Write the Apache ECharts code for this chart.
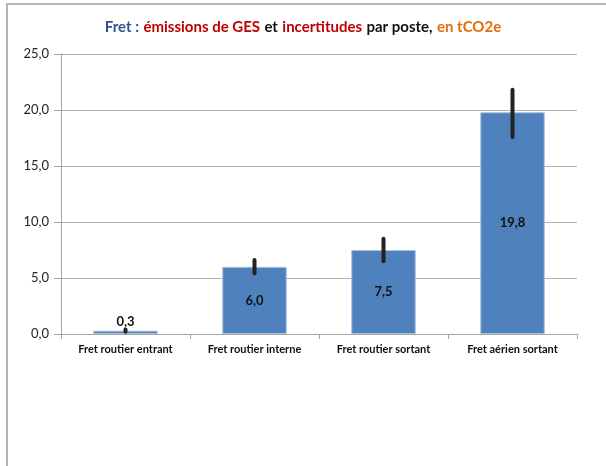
<!DOCTYPE html>
<html>
<head>
<meta charset="utf-8">
<script src="https://cdn.jsdelivr.net/npm/echarts@6/dist/echarts.min.js"></script>
<style>
  html, body { margin: 0; padding: 0; background: #fff; }
  #chart { width: 606px; height: 466px; }
</style>
</head>
<body>
<div id="chart"></div>
<script>
// postes de fret
var categories = ['Fret routier entrant', 'Fret routier interne', 'Fret routier sortant', 'Fret aérien sortant'];
// émissions en tCO2e
var emissions = [0.3, 6.0, 7.5, 19.8];
// bornes des incertitudes (bas / haut)
var errLow = [0.2, 5.4, 6.5, 17.6];
var errHigh = [0.4, 6.6, 8.5, 21.8];
// axe Y
var yTicks = [0, 5, 10, 15, 20, 25];

var fr = function (v) { return v.toFixed(1).replace('.', ','); };

var myChart = echarts.init(document.getElementById('chart'));

var option = {
  animation: false,
  textStyle: { fontFamily: 'Lato' },
  title: {
    left: 'center',
    top: 13,
    text: '{b|Fret :} {r|émissions de GES} {k|et} {r|incertitudes} {k|par poste,} {o|en tCO2e}',
    textStyle: {
      rich: {
        b: { color: '#2c5590', fontWeight: 'bold', fontSize: 15, fontFamily: 'Lato' },
        r: { color: '#c00000', fontWeight: 'bold', fontSize: 15, fontFamily: 'Lato' },
        k: { color: '#111', fontWeight: 'bold', fontSize: 15, fontFamily: 'Lato' },
        o: { color: '#e46c0a', fontWeight: 'bold', fontSize: 15, fontFamily: 'Lato' }
      }
    }
  },
  graphic: [{
    type: 'rect',
    shape: { x: 7, y: 4, width: 700, height: 600 },
    style: { fill: 'none', stroke: '#b4b4b4', lineWidth: 2 },
    silent: true
  }],
  grid: { left: 61, right: 29, top: 54, bottom: 132 },
  xAxis: {
    type: 'category',
    data: categories,
    axisLine: { lineStyle: { color: '#a6a6a6' } },
    axisTick: { show: true, length: 5, lineStyle: { color: '#a6a6a6' } },
    axisLabel: { color: '#111', fontWeight: 'bold', fontSize: 11, margin: 10, interval: 0 }
  },
  yAxis: {
    type: 'value',
    min: yTicks[0],
    max: yTicks[yTicks.length - 1],
    interval: 5,
    axisLine: { show: true, lineStyle: { color: '#a6a6a6' } },
    axisTick: { show: true, length: 7, lineStyle: { color: '#a6a6a6' } },
    splitLine: { lineStyle: { color: '#b4b4b4' } },
    axisLabel: { color: '#222', fontSize: 13, margin: 12, formatter: function (v) { return fr(v); } }
  },
  series: [
    {
      type: 'bar',
      data: emissions.map(function (v, i) {
        return {
          value: v,
          label: { position: i === 0 ? 'top' : 'inside', distance: 2 }
        };
      }),
      barWidth: '50%',
      itemStyle: { color: '#4f81bd', borderColor: '#a9c1e0', borderWidth: 1 },
      label: {
        show: true,
        color: '#111',
        fontWeight: 'bold',
        fontSize: 13,
        formatter: function (p) { return fr(p.value); }
      },
      z: 2
    },
    {
      type: 'custom',
      data: categories.map(function (c, i) { return [i, errLow[i], errHigh[i]]; }),
      renderItem: function (params, api) {
        var lo = api.coord([api.value(0), api.value(1)]);
        var hi = api.coord([api.value(0), api.value(2)]);
        return {
          type: 'line',
          shape: { x1: lo[0], y1: lo[1], x2: hi[0], y2: hi[1] },
          style: { stroke: '#222', lineWidth: 4, lineCap: 'round' }
        };
      },
      z: 3
    }
  ]
};

myChart.setOption(option);
</script>
</body>
</html>
